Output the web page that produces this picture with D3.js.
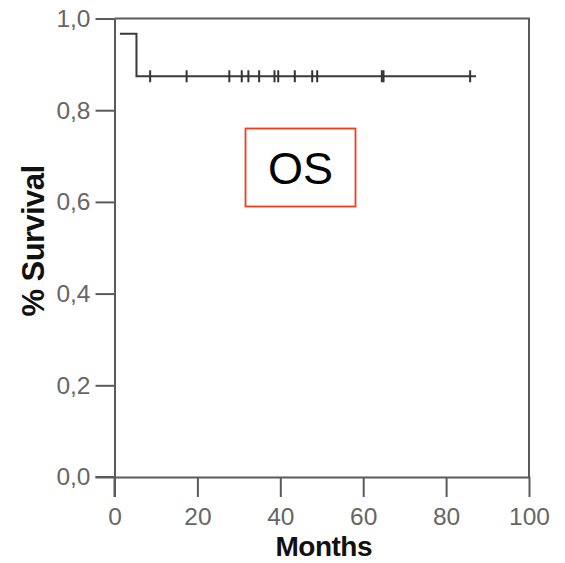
<!DOCTYPE html>
<html><head><meta charset="utf-8">
<script src="https://cdn.jsdelivr.net/npm/d3@7"></script>
<style>body{margin:0;background:#fff}svg{display:block}</style>
</head><body>
<script>
// Data
const stepTimes = [1.3, 5.3];          // start of curve, event time
const stepSurvival = [0.967, 0.874];   // survival level from each time
const endTime = 87.2;
const censorTimes = [8.6, 17.4, 27.7, 30.7, 32.3, 34.9, 38.6, 39.5, 43.5, 47.7, 48.9, 64.5, 64.9, 85.8];
const xTicks = [0, 20, 40, 60, 80, 100];
const yTicks = [0, 0.2, 0.4, 0.6, 0.8, 1.0];
const xLabel = "Months";
const yLabel = "% Survival";
const boxLabel = "OS";

const W = 565, H = 563;
const svg = d3.select("body").append("svg").attr("width", W).attr("height", H);
const x = d3.scaleLinear().domain([0, 100]).range([114.5, 529]);
const y = d3.scaleLinear().domain([0, 1]).range([477, 18.5]);
const axisColor = "#5a5a5a";

// frame top/right
svg.append("path")
  .attr("d", `M${x(0)},${y(1)}H${x(100)}V${y(0)}`)
  .attr("fill", "none").attr("stroke", axisColor).attr("stroke-width", 2);

const fmt = d => d3.format(".1f")(d).replace(".", ",");
const gy = svg.append("g").attr("transform", `translate(${x(0)},0)`)
  .call(d3.axisLeft(y).tickValues(yTicks).tickFormat(fmt).tickSize(19).tickSizeOuter(0).tickPadding(5));
const gx = svg.append("g").attr("transform", `translate(0,${y(0)})`)
  .call(d3.axisBottom(x).tickValues(xTicks).tickSize(20).tickSizeOuter(0).tickPadding(11));
[gy, gx].forEach(g => {
  g.select(".domain").attr("stroke", axisColor).attr("stroke-width", 2);
  g.selectAll(".tick line").attr("stroke", axisColor).attr("stroke-width", 2);
  g.selectAll(".tick text").attr("fill", "#666")
    .attr("font-family", "Liberation Sans, Arial, sans-serif").attr("font-size", 24.5);
});
// extend axes lines to meet outward ticks
svg.append("line").attr("x1", x(0)).attr("x2", x(0)).attr("y1", y(0)).attr("y2", y(0) + 20)
  .attr("stroke", axisColor).attr("stroke-width", 2);
svg.append("line").attr("x1", x(0) - 19).attr("x2", x(0)).attr("y1", y(0)).attr("y2", y(0))
  .attr("stroke", axisColor).attr("stroke-width", 2);

// KM step curve
const pts = stepTimes.map((t, i) => [t, stepSurvival[i]]);
pts.push([endTime, stepSurvival[stepSurvival.length - 1]]);
const line = d3.line().x(d => x(d[0])).y(d => y(d[1])).curve(d3.curveStepAfter);
svg.append("path").datum(pts).attr("d", line)
  .attr("fill", "none").attr("stroke", "#3a3a3a").attr("stroke-width", 2);

// censor marks
function survAt(t) {
  let s = 1;
  stepTimes.forEach((st, i) => { if (t >= st) s = stepSurvival[i]; });
  return s;
}
svg.append("g").selectAll("line").data(censorTimes).join("line")
  .attr("x1", d => x(d)).attr("x2", d => x(d))
  .attr("y1", d => y(survAt(d)) - 6).attr("y2", d => y(survAt(d)) + 6)
  .attr("stroke", "#333").attr("stroke-width", 2);

// axis titles
svg.append("text").attr("x", x(50) + 2).attr("y", 556).attr("text-anchor", "middle")
  .attr("font-family", "Liberation Sans, Arial, sans-serif").attr("font-weight", "bold")
  .attr("font-size", 28).attr("fill", "#111").attr("letter-spacing", -0.5).text(xLabel);
svg.append("text").attr("transform", `translate(44,241) rotate(-90)`).attr("text-anchor", "middle")
  .attr("font-family", "Liberation Sans, Arial, sans-serif").attr("font-weight", "bold")
  .attr("font-size", 31).attr("fill", "#111").attr("letter-spacing", -0.6).text(yLabel);

// OS box
svg.append("rect").attr("x", 245.5).attr("y", 128.5).attr("width", 110).attr("height", 78)
  .attr("fill", "none").attr("stroke", "#f23c1a").attr("stroke-width", 1.8);
svg.append("text").attr("x", 300.5).attr("y", 183.5).attr("text-anchor", "middle")
  .attr("font-family", "Liberation Sans, Arial, sans-serif").attr("font-size", 45)
  .attr("fill", "#000").text(boxLabel);
</script>
</body></html>
